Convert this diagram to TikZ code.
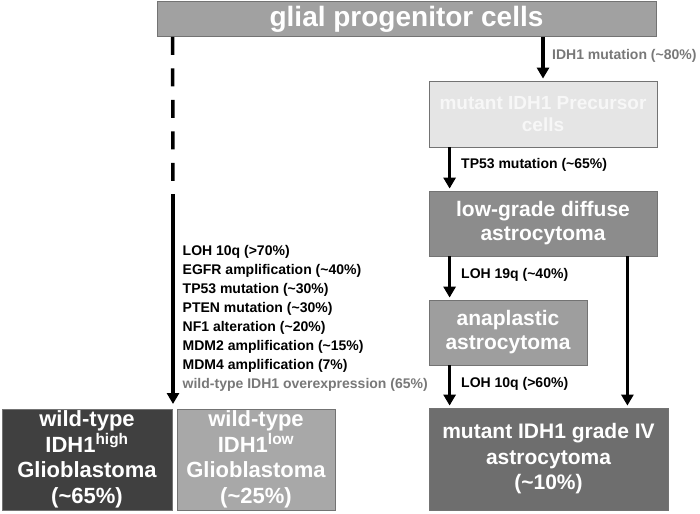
\documentclass[tikz,border=0pt]{standalone}
\usepackage{fontspec}
\setmainfont{Liberation Sans}
\usetikzlibrary{arrows.meta}
\definecolor{glialfill}{gray}{0.63}
\definecolor{precfill}{gray}{0.90}
\definecolor{precText}{gray}{0.97}
\definecolor{lowfill}{gray}{0.55}
\definecolor{anafill}{gray}{0.62}
\definecolor{gbmfill}{gray}{0.43}
\definecolor{highfill}{gray}{0.25}
\definecolor{lowwtfill}{gray}{0.66}
\definecolor{edgegray}{gray}{0.45}
\definecolor{labelgray}{gray}{0.47}
\begin{document}
\begin{tikzpicture}[x=1pt, y=-1pt,
  cellbox/.style={draw=edgegray, line width=0.8pt, inner sep=0pt, text=white, align=center, font=\bfseries},
  mutarrow/.style={line width=3.5pt, -{Triangle[width=12pt,length=11pt]}, shorten >=2pt},
  mutlabel/.style={anchor=west, inner sep=0pt, font=\fontsize{14}{19.05}\selectfont\bfseries}]
\useasboundingbox (0,0) rectangle (700,513);

% boxes
\node[cellbox, fill=glialfill, minimum width=499pt, minimum height=35pt, font=\fontsize{28}{34}\selectfont\bfseries] (glial) at (406.5,19) {glial progenitor cells};
\node[cellbox, fill=precfill, text=precText, minimum width=228pt, minimum height=66pt, font=\fontsize{19}{22}\selectfont\bfseries] (prec) at (543,114) {mutant IDH1 Precursor\\cells};
\node[cellbox, fill=lowfill, minimum width=228pt, minimum height=65pt, font=\fontsize{21}{24}\selectfont\bfseries] (low) at (543,223.5) {low-grade diffuse\\astrocytoma};
\node[cellbox, fill=anafill, minimum width=158pt, minimum height=65pt, font=\fontsize{21}{24}\selectfont\bfseries] (ana) at (508,332.5) {anaplastic\\astrocytoma};
\node[cellbox, fill=gbmfill, minimum width=239pt, minimum height=102pt, font=\fontsize{21}{25.5}\selectfont\bfseries] (gbm4) at (548.5,459) {mutant IDH1 grade IV\\astrocytoma\\(\textasciitilde10\%)};
\node[cellbox, fill=highfill, minimum width=170pt, minimum height=101pt, font=\fontsize{22}{25.5}\selectfont\bfseries] (wthigh) at (87,459.5) {wild-type\\IDH1\textsuperscript{high}\\Glioblastoma\\(\textasciitilde65\%)};
\node[cellbox, fill=lowwtfill, minimum width=158pt, minimum height=101pt, font=\fontsize{22}{25.5}\selectfont\bfseries] (wtlow) at (256,459.5) {wild-type\\IDH1\textsuperscript{low}\\Glioblastoma\\(\textasciitilde25\%)};

% IDH1 mutant path
\path[draw,mutarrow] (prec.north |- glial.south) -- (prec.north);
\node[mutlabel, text=labelgray] (l80) at (552,56) {IDH1 mutation (\textasciitilde80\%)};
\path[draw,mutarrow] ([xshift=21pt]prec.south west) -- ([xshift=21pt]low.north west);
\node[mutlabel] (l65) at (461,165) {TP53 mutation (\textasciitilde65\%)};
\path[draw,mutarrow] ([xshift=21pt]low.south west) -- ([xshift=21pt]ana.north west);
\node[mutlabel] (l19q) at (461,275) {LOH 19q (\textasciitilde40\%)};
\path[draw,mutarrow] ([xshift=21pt]ana.south west) -- ([xshift=21pt]gbm4.north west);
\node[mutlabel] (l10q) at (461,384) {LOH 10q (>60\%)};
\path[draw,mutarrow] ([xshift=-30pt]low.south east) -- ([xshift=-41pt]gbm4.north east);

% wild-type path
\coordinate (split) at (173,194);
\coordinate (wtgap) at (173,406);
\path[draw,line width=3.5pt,dash pattern=on 18pt off 13.5pt] ([xshift=16pt]glial.south west) -- (split);
\path[draw,mutarrow] (split) -- (wtgap);
\node[mutlabel, align=left] (wtlist) at (182.5,318.4) {LOH 10q (>70\%)\\EGFR amplification (\textasciitilde40\%)\\TP53 mutation (\textasciitilde30\%)\\PTEN mutation (\textasciitilde30\%)\\NF1 alteration (\textasciitilde20\%)\\MDM2 amplification (\textasciitilde15\%)\\MDM4 amplification (7\%)\\\textcolor{labelgray}{wild-type IDH1 overexpression (65\%)}};
\end{tikzpicture}
\end{document}
